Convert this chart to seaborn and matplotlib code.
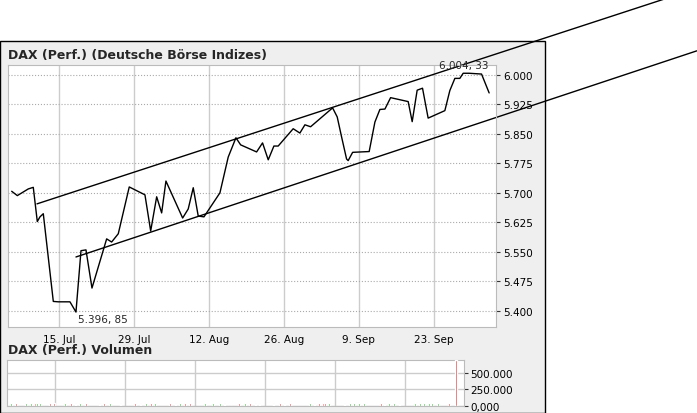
import matplotlib
matplotlib.use("Agg")
import matplotlib.pyplot as plt
import matplotlib.patches as mpatches
import seaborn as sns
import pandas as pd

# days relative to 15 Jul, DAX (Perf.) close
days = [-8.83, -7.78, -5.73, -4.80, -4.05, -3.55, -2.93, -1.06, -0.13, 2.05, 3.17, 4.11, 5.04,
        6.16, 8.90, 9.83, 11.07, 13.12, 16.05, 17.12, 18.24, 19.17, 19.97, 23.09, 24.13, 25.07,
        26.0, 27.07, 30.05, 31.6, 33.04, 33.92, 36.9, 38.01, 39.07, 40.13, 40.93, 43.73, 44.98,
        45.92, 46.98, 51.09, 51.95, 52.77, 53.7, 54.0, 54.83, 57.92, 58.99, 59.92, 60.86, 61.92,
        65.2, 65.95, 66.88, 67.88, 68.93, 72.05, 72.98, 73.92, 74.85, 75.47, 76.59, 78.9, 80.32]
close = [5704, 5693, 5710, 5714, 5627, 5639, 5647, 5424, 5423, 5423, 5397, 5553, 5555,
         5458, 5583, 5575, 5596, 5715, 5695, 5603, 5690, 5649, 5730, 5636, 5659, 5713,
         5641, 5639, 5700, 5791, 5840, 5822, 5804, 5827, 5784, 5819, 5819, 5863, 5852,
         5873, 5868, 5916, 5893, 5842, 5786, 5782, 5803, 5805, 5880, 5912, 5913, 5942,
         5932, 5881, 5961, 5966, 5890, 5909, 5960, 5991, 5991, 6004, 6004, 6002, 5954]
volume = [40000] * 64 + [690000]

upper_trend = ([-4.11, 113.1], [5672, 6193])
lower_trend = ([3.17, 119.1], [5537, 6061])

xticks = [0, 14, 28, 42, 56, 70]
xlabels = ["15. Jul", "29. Jul", "12. Aug", "26. Aug", "9. Sep", "23. Sep"]
yticks = [5400, 5475, 5550, 5625, 5700, 5775, 5850, 5925, 6000]
ylabels = ["5.400", "5.475", "5.550", "5.625", "5.700", "5.775", "5.850", "5.925", "6.000"]
vticks = [0, 250000, 500000]
vlabels = ["0,000", "250.000", "500.000"]

sns.set_style("white")
W, H = 697, 414
fig = plt.figure(figsize=(W / 100, H / 100), dpi=100)
fig.patches.append(mpatches.Rectangle((0, 0), 545 / W, 372 / H, transform=fig.transFigure,
                                      facecolor="#efefef", edgecolor="black", lw=1, zorder=-5))

ax = fig.add_axes([8 / W, 1 - 328 / H, 488 / W, 262 / H])
df = pd.DataFrame({"day": days, "close": close})
sns.lineplot(data=df, x="day", y="close", ax=ax, color="black", lw=1)
ax.plot(*upper_trend, color="black", lw=1, clip_on=False)
ax.plot(*lower_trend, color="black", lw=1, clip_on=False)
ax.set_xlim(-9.52, 81.6)
ax.set_ylim(5359, 6025)
ax.set_xticks(xticks, xlabels)
ax.set_yticks(yticks, ylabels)
ax.yaxis.tick_right()
ax.tick_params(labelsize=7.5, length=3, pad=2, colors="#333333", labelcolor="black")
ax.grid(axis="y", color="#aaaaaa", ls=":", lw=0.8)
ax.grid(axis="x", color="#cccccc", ls="-", lw=1)
for s in ax.spines.values():
    s.set_color("#bbbbbb")
ax.set_xlabel("")
ax.set_ylabel("")
ax.text(75.5, 6004 + 8, "6.004, 33", fontsize=7.5, ha="center", va="bottom")
ax.text(3.17 + 0.3, 5397 - 5, "5.396, 85", fontsize=7.5, ha="left", va="top")

fig.text(8 / W, 1 - 55 / H, "DAX (Perf.) (Deutsche Börse Indizes)", fontsize=9, weight="bold", va="center")
fig.text(8 / W, 1 - 351 / H, "DAX (Perf.) Volumen", fontsize=9, weight="bold", va="center")

vax = fig.add_axes([6.7 / W, 1 - 407 / H, 457 / W, 46 / H])
vax.set_axisbelow(True)
colors = ["#22bb22"] + ["#22bb22" if c >= p else "#ee3333" for p, c in zip(close[:-1], close[1:])]
colors[-1] = "#ee3333"
vax.bar(days, volume, width=0.35, color=colors, zorder=3)
vax.set_xlim(-9.66, 81.8)
vax.set_ylim(0, 690000)
vax.set_xticks(xticks, [])
vax.set_yticks(vticks, vlabels)
vax.yaxis.tick_right()
vax.tick_params(labelsize=7.5, length=3, pad=2, colors="#333333", labelcolor="black")
vax.tick_params(axis="x", length=0)
vax.grid(axis="both", color="#cccccc", lw=1)
for s in vax.spines.values():
    s.set_color("#bbbbbb")

fig.savefig("out.png", dpi=100)
